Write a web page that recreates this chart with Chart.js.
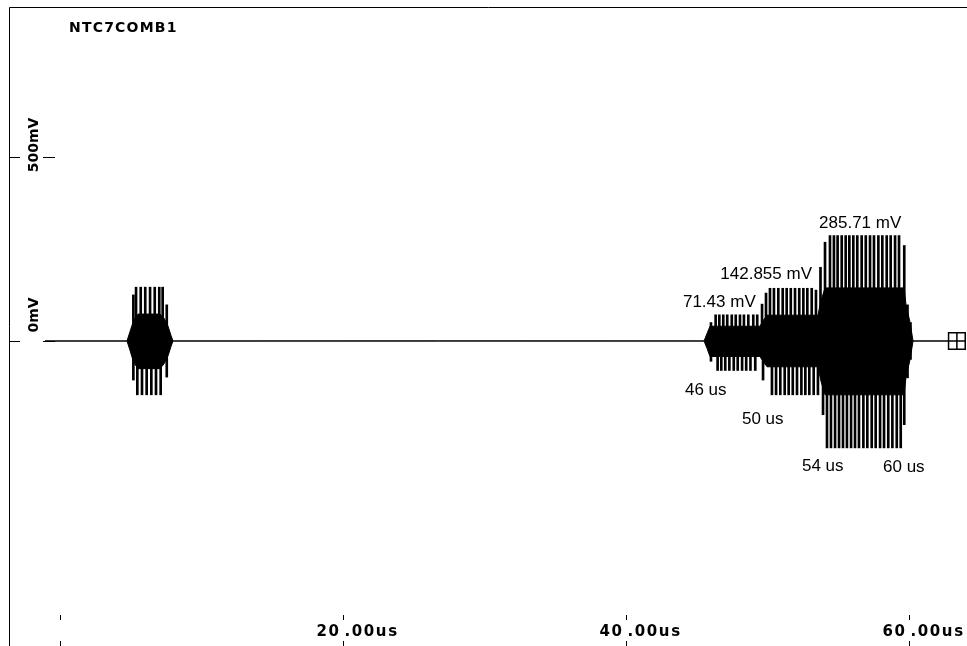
<!DOCTYPE html>
<html>
<head>
<meta charset="utf-8">
<script src="https://cdn.jsdelivr.net/npm/chart.js@4.4.0/dist/chart.umd.min.js"></script>
<style>
  html, body { margin: 0; padding: 0; background: #fff; }
  #wrap { position: relative; width: 967px; height: 646px; }
</style>
</head>
<body>
<div id="wrap"><canvas id="scope"></canvas></div>
<script>
// trace name and axis ticks
const traceName = 'NTC7COMB1';
const xTicks = [0, 20, 40, 60];
const xTickLabels = ['', '20.00us', '40.00us', '60.00us'];
const yTicks = [0, 500];
const yTickLabels = ['0mV', '500mV'];

// dense core of the bursts (time in us, level in mV)
const envT    = [-1.02, 4.77, 4.98, 5.19, 5.34, 5.55, 7.10, 7.39, 7.67, 7.88, 8.02, 45.55, 45.76, 45.97, 49.50, 49.72, 50.00, 53.60, 53.82, 54.10, 59.68, 59.82, 60.11, 60.32, 62.79];
const envHigh = [0, 0, 25, 50, 62, 73, 73, 62, 40, 15, 0, 0, 20, 40, 40, 55, 70, 70, 110, 144, 144, 100, 50, 0, 0];
const envLow  = [0, 0, -25, -52, -64, -75, -75, -62, -40, -15, 0, 0, -20, -42, -42, -55, -70, -70, -110, -146, -146, -100, -50, 0, 0];

// positive peaks of the carrier
const spikeUpT = [5.22, 5.41, 5.74, 6.06, 6.40, 6.73, 7.05, 7.29, 7.58,
  46.04, 46.37, 46.63, 46.91, 47.19, 47.51, 47.79, 48.09, 48.37, 48.68, 49.03, 49.31, 49.65, 49.93,
  50.21, 50.49, 50.80, 51.11, 51.39, 51.68, 51.98, 52.28, 52.57, 52.85, 53.16, 53.46, 53.78, 54.10,
  54.45, 54.73, 54.99, 55.28, 55.56, 55.82, 56.10, 56.38, 56.69, 56.98, 57.28, 57.56, 57.87, 58.15, 58.46, 58.74, 59.05, 59.33,
  59.70, 59.93, 60.14];
const spikeUpV = [125, 146, 146, 146, 146, 146, 146, 146, 98,
  50, 71, 71, 71, 71, 71, 71, 71, 71, 71, 71, 71, 100, 130,
  143, 143, 143, 143, 143, 143, 143, 143, 143, 143, 143, 138, 200, 268,
  286, 286, 286, 286, 286, 286, 286, 286, 286, 286, 286, 286, 286, 286, 286, 286, 286, 286,
  259, 98, 50];

// negative peaks of the carrier
const spikeDownT = [5.22, 5.50, 5.83, 6.16, 6.49, 6.82, 7.15, 7.58,
  46.04, 46.51, 46.77, 47.05, 47.34, 47.65, 47.93, 48.24, 48.53, 48.83, 49.17, 49.72,
  50.35, 50.64, 50.94, 51.25, 51.53, 51.82, 52.12, 52.43, 52.71, 52.99, 53.30, 53.60, 53.96, 54.24,
  54.52, 54.81, 55.09, 55.37, 55.65, 55.94, 56.22, 56.50, 56.81, 57.09, 57.40, 57.68, 57.99, 58.27, 58.57, 58.86, 59.17, 59.45,
  59.70, 59.93, 60.14];
const spikeDownV = [-106, -146, -146, -146, -146, -146, -146, -98,
  -55, -80, -80, -80, -80, -80, -80, -80, -80, -80, -80, -106,
  -146, -146, -146, -146, -146, -146, -146, -146, -146, -146, -146, -146, -200, -290,
  -290, -290, -290, -290, -290, -290, -290, -290, -290, -290, -290, -290, -290, -290, -290, -290, -290, -290,
  -227, -100, -50];

// end-of-trace marker
const markerT = [63.42];
const markerV = [0];

// measurement notes written on the trace
const noteText = ['285.71 mV', '142.855 mV', '71.43 mV', '46 us', '50 us', '54 us', '60 us'];
const noteT    = [53.68, 53.18, 44.06, 44.20, 48.23, 52.47, 58.20];
const noteV    = [306.6, 168.2, 92.2, -146.5, -225.2, -352.7, -355.4];
const noteAlign = ['left', 'right', 'left', 'left', 'left', 'left', 'left'];

const pts = (xs, ys) => xs.map((x, i) => ({ x: x, y: ys[i] }));

const scopeDecor = {
  id: 'scopeDecor',
  afterDraw(chart) {
    const ctx = chart.ctx, xs = chart.scales.x, ys = chart.scales.y;
    ctx.save();
    ctx.strokeStyle = '#000';
    ctx.fillStyle = '#000';
    ctx.lineWidth = 1;

    // frame (left + top)
    ctx.beginPath();
    ctx.moveTo(9.5, 646); ctx.lineTo(9.5, 7.5); ctx.lineTo(967, 7.5);
    ctx.stroke();

    // trace name
    ctx.font = 'bold 14px "DejaVu Sans"';
    ctx.letterSpacing = '1.2px';
    ctx.textBaseline = 'alphabetic';
    ctx.textAlign = 'left';
    ctx.fillText(traceName, 69, 32);

    // y ticks with rotated labels
    const yShift = [-26.5, -12.5];
    ctx.letterSpacing = '0px';
    yTicks.forEach((v, i) => {
      const py = Math.round(ys.getPixelForValue(v)) + 0.5;
      ctx.beginPath();
      ctx.moveTo(9, py); ctx.lineTo(20, py);
      ctx.moveTo(43, py); ctx.lineTo(55, py);
      ctx.stroke();
      ctx.save();
      ctx.translate(38, py + yShift[i]);
      ctx.rotate(-Math.PI / 2);
      ctx.textAlign = 'center';
      ctx.fillText(yTickLabels[i], 0, 0);
      ctx.restore();
    });

    // x ticks, decimal point sits on the tick
    ctx.font = 'bold 15px "DejaVu Sans"';
    ctx.letterSpacing = '1.6px';
    xTicks.forEach((t, i) => {
      const px = Math.round(xs.getPixelForValue(t)) + 0.5;
      ctx.beginPath();
      ctx.moveTo(px, 615); ctx.lineTo(px, 620);
      ctx.moveTo(px, 641); ctx.lineTo(px, 646);
      ctx.stroke();
      const lab = xTickLabels[i];
      if (!lab) return;
      const dot = lab.indexOf('.');
      ctx.textAlign = 'right';
      ctx.fillText(lab.slice(0, dot), px - 3, 636);
      ctx.textAlign = 'left';
      ctx.fillText(lab.slice(dot), px + 1, 636);
    });

    // notes
    ctx.letterSpacing = '0px';
    ctx.font = '17px "Liberation Sans"';
    noteText.forEach((s, i) => {
      ctx.textAlign = noteAlign[i];
      ctx.fillText(s, xs.getPixelForValue(noteT[i]), ys.getPixelForValue(noteV[i]));
    });
    ctx.restore();
  }
};

new Chart(document.getElementById('scope'), {
  type: 'line',
  data: {
    datasets: [
      {
        data: pts(envT, envHigh),
        borderColor: '#000', borderWidth: 1, pointRadius: 0,
        backgroundColor: '#000', fill: '+1', tension: 0
      },
      {
        data: pts(envT, envLow),
        borderColor: '#000', borderWidth: 1, pointRadius: 0, tension: 0
      },
      {
        type: 'bar', data: pts(spikeUpT, spikeUpV),
        backgroundColor: '#000', barThickness: 2, grouped: false
      },
      {
        type: 'bar', data: pts(spikeDownT, spikeDownV),
        backgroundColor: '#000', barThickness: 2, grouped: false
      },
      {
        type: 'scatter', data: pts(markerT, markerV),
        pointStyle: 'cross', pointRadius: 8.3,
        borderColor: '#000', borderWidth: 1.5
      },
      {
        type: 'scatter', data: pts(markerT, markerV),
        pointStyle: 'rect', pointRadius: 11.8,
        backgroundColor: 'rgba(0,0,0,0)', borderColor: '#000', borderWidth: 1.5
      }
    ]
  },
  options: {
    responsive: true,
    maintainAspectRatio: false,
    animation: false,
    layout: { padding: 0, autoPadding: false },
    plugins: { legend: { display: false }, tooltip: { enabled: false } },
    scales: {
      x: { type: 'linear', display: false, min: -4.205, max: 64.134, offset: false },
      y: { display: false, min: -827.5, max: 925.1 }
    }
  },
  plugins: [scopeDecor]
});
</script>
</body>
</html>
